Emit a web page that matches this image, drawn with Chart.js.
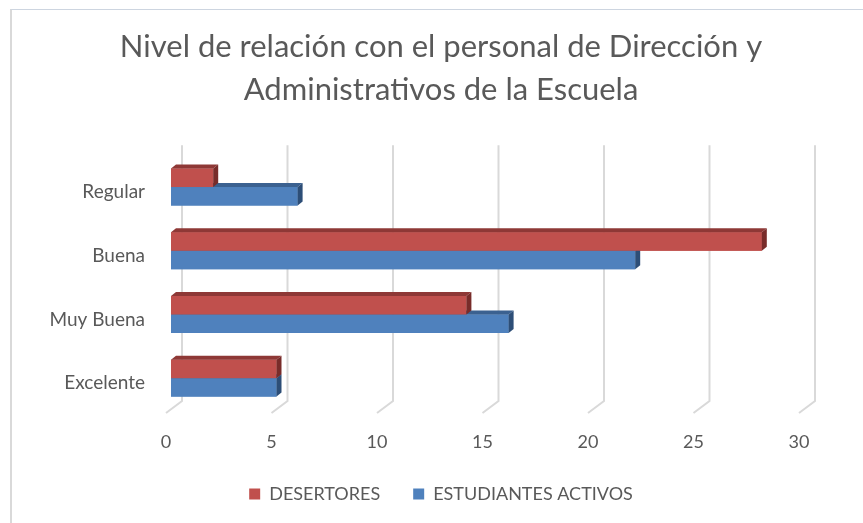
<!DOCTYPE html>
<html>
<head>
<meta charset="utf-8">
<script src="https://cdn.jsdelivr.net/npm/chart.js@4"></script>
<style>
    body { margin: 0; background: #fff; }
    #wrap { position: relative; width: 863px; height: 523px; }
    #frame {
        position: absolute; left: 10px; top: 9px; right: -5px; bottom: -5px;
        border-left: 2px solid #d9d9d9; border-top: 1px solid #cdd5e0;
    }
    canvas { position: absolute; left: 0; top: 0; }
</style>
</head>
<body>
<div id="wrap">
    <div id="frame"></div>
    <canvas id="chart" width="863" height="523"></canvas>
</div>
<script>
const categories = ['Regular', 'Buena', 'Muy Buena', 'Excelente'];
const desertores = [2, 28, 14, 5];
const activos = [6, 22, 16, 5];
const xTicks = [0, 5, 10, 15, 20, 25, 30];

// front, top, side colours for the fake 3d bars
const shades = [
    ['#C0504D', '#8e3836', '#782c2a'],
    ['#4F81BD', '#3b6190', '#2d4e77']
];

// back-wall gridlines with the little floor diagonal
const gridPlugin = {
    id: 'grid3d',
    beforeDatasetsDraw(chart) {
        const ctx = chart.ctx;
        const area = chart.chartArea;
        const xs = chart.scales.x;
        ctx.save();
        ctx.strokeStyle = '#d9d9d9';
        ctx.lineWidth = 2;
        xTicks.forEach(v => {
            const px = xs.getPixelForValue(v);
            ctx.beginPath();
            ctx.moveTo(px + 11, area.top - 10);
            ctx.lineTo(px + 11, area.bottom - 9);
            ctx.lineTo(px - 5, area.bottom + 3);
            ctx.stroke();
        });
        ctx.restore();
    }
};

// redraw bars with top and side faces, lower series first so the upper one covers it
const barPlugin = {
    id: 'bars3d',
    afterDatasetsDraw(chart) {
        const ctx = chart.ctx;
        const dx = 5, dy = -4;
        ctx.save();
        categories.forEach((c, i) => {
            [1, 0].forEach(d => {
                const el = chart.getDatasetMeta(d).data[i];
                const x0 = el.base, x1 = el.x;
                const y0 = el.y - el.height / 2, y1 = el.y + el.height / 2;
                const col = shades[d];
                ctx.fillStyle = col[0];
                ctx.fillRect(x0, y0, x1 - x0, y1 - y0);
                ctx.fillStyle = col[1];
                ctx.beginPath();
                ctx.moveTo(x0, y0);
                ctx.lineTo(x1, y0);
                ctx.lineTo(x1 + dx, y0 + dy);
                ctx.lineTo(x0 + dx, y0 + dy);
                ctx.closePath();
                ctx.fill();
                ctx.fillStyle = col[2];
                ctx.beginPath();
                ctx.moveTo(x1, y0);
                ctx.lineTo(x1 + dx, y0 + dy);
                ctx.lineTo(x1 + dx, y1 + dy);
                ctx.lineTo(x1, y1);
                ctx.closePath();
                ctx.fill();
            });
        });
        ctx.restore();
    }
};

const font = 'Lato';

new Chart(document.getElementById('chart').getContext('2d'), {
    type: 'bar',
    data: {
        labels: categories,
        datasets: [{
            label: 'DESERTORES',
            data: desertores,
            backgroundColor: '#C0504D'
        }, {
            label: 'ESTUDIANTES ACTIVOS',
            data: activos,
            backgroundColor: '#4F81BD'
        }]
    },
    options: {
        indexAxis: 'y',
        responsive: false,
        animation: false,
        layout: {
            padding: { left: 19, right: 0, top: 0, bottom: 10 }
        },
        datasets: {
            bar: { barPercentage: 1, categoryPercentage: 0.58 }
        },
        scales: {
            x: {
                min: 0,
                max: 30,
                grid: { display: false, drawTicks: false },
                border: { display: false },
                afterBuildTicks: axis => { axis.ticks = xTicks.map(v => ({ value: v })); },
                afterFit: axis => { axis.height = 42; },
                ticks: {
                    padding: 21,
                    labelOffset: -5,
                    maxRotation: 0,
                    color: '#595959',
                    font: { family: font, size: 18 }
                }
            },
            y: {
                grid: { display: false, drawTicks: false },
                border: { display: false },
                afterFit: axis => { axis.width = 152; },
                ticks: {
                    padding: 26,
                    labelOffset: 5,
                    color: '#595959',
                    font: { family: font, size: 19 }
                }
            },
            // empty spacer on the right so the plot ends where the original does
            y2: {
                type: 'category',
                position: 'right',
                grid: { display: false, drawTicks: false },
                border: { display: false },
                ticks: { display: false },
                afterFit: axis => { axis.width = 59; }
            }
        },
        plugins: {
            title: {
                display: true,
                text: ['Nivel de relación con el personal de Dirección y', 'Administrativos de la Escuela'],
                color: '#595959',
                font: { family: font, size: 31, weight: 'normal', lineHeight: 1.39 },
                padding: { top: 25, bottom: 44 }
            },
            legend: {
                position: 'bottom',
                labels: {
                    boxWidth: 11,
                    boxHeight: 11,
                    padding: 33,
                    color: '#595959',
                    font: { family: font, size: 18 }
                }
            },
            tooltip: { enabled: false }
        }
    },
    plugins: [gridPlugin, barPlugin]
});
</script>
</body>
</html>
